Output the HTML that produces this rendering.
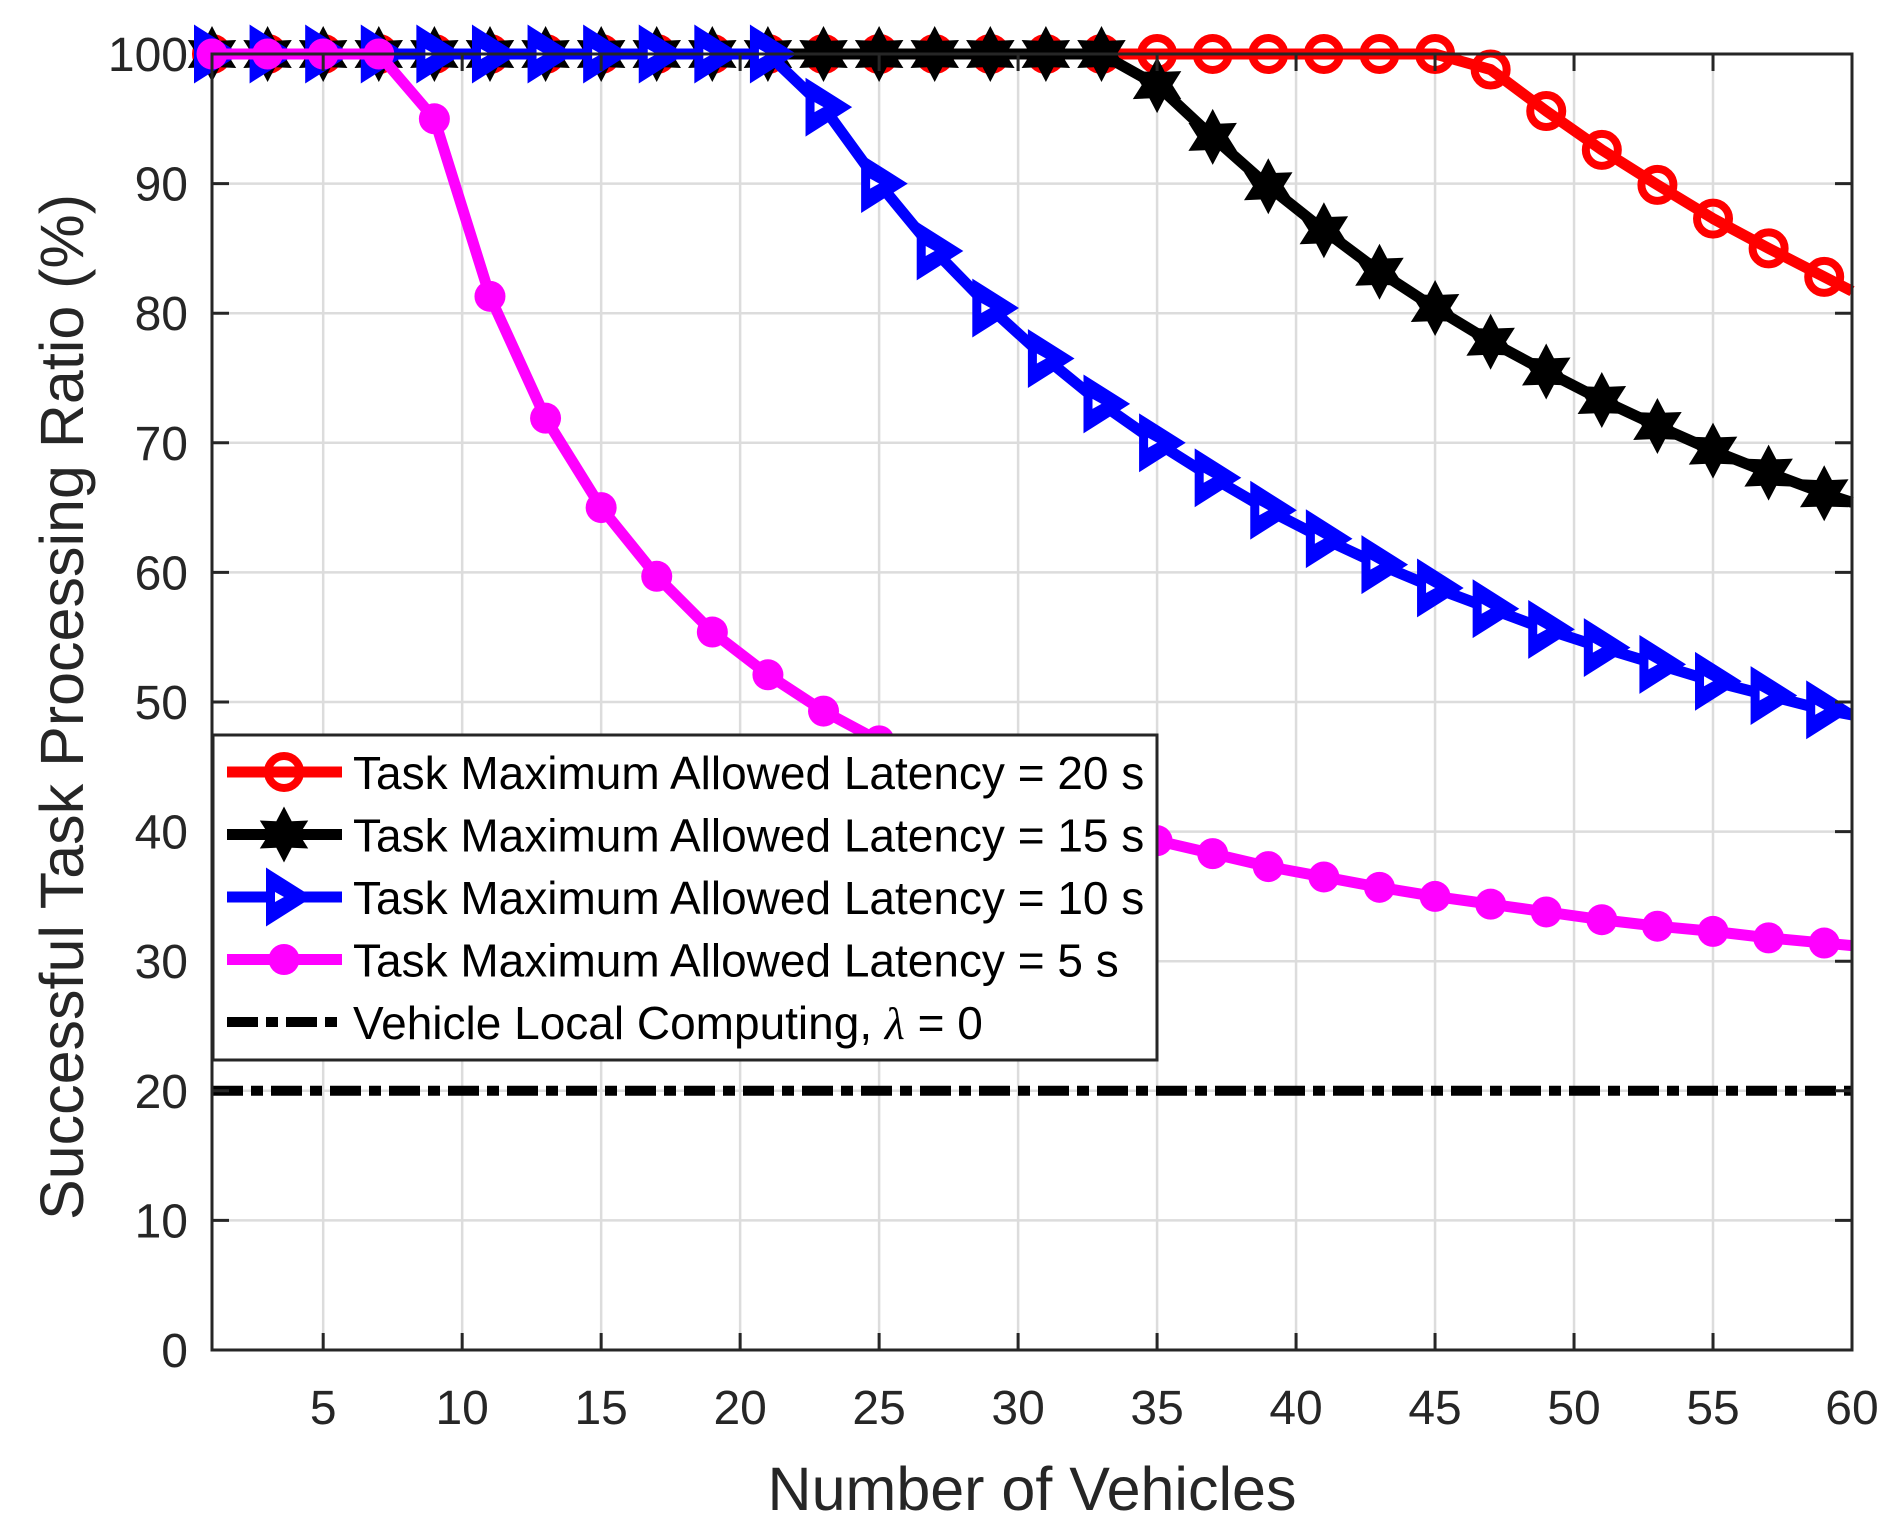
<!DOCTYPE html>
<html><head><meta charset="utf-8"><style>html,body{margin:0;padding:0;background:#fff}svg{display:block}</style></head>
<body>
<svg id="s" width="1902" height="1538" viewBox="0 0 1902 1538" xmlns="http://www.w3.org/2000/svg" font-family="Liberation Sans, sans-serif">
<rect width="1902" height="1538" fill="#fff"/>
<g id="grid"></g>
<g id="series"></g>
<g id="axes"></g>
<g id="legend"></g>
<text x="1032" y="1510" font-size="61" text-anchor="middle" fill="#262626">Number of Vehicles</text>
<text transform="translate(83,707) rotate(-90)" font-size="61" text-anchor="middle" fill="#262626">Successful Task Processing Ratio (%)</text>
</svg>
<script>
const L=212,R=1852,T=54,B=1350;
const X=v=>L+(v-1)*(R-L)/59, Y=v=>B-v*(B-T)/100;
const NS="http://www.w3.org/2000/svg";
function el(p,t,a,txt){const e=document.createElementNS(NS,t);for(const k in a)e.setAttribute(k,a[k]);if(txt!==undefined)e.textContent=txt;document.getElementById(p).appendChild(e);return e;}
for(let v=5;v<=55;v+=5)el('grid','line',{x1:X(v),x2:X(v),y1:T,y2:B,stroke:'#dcdcdc','stroke-width':2.5});
for(let v=10;v<=90;v+=10)el('grid','line',{x1:L,x2:R,y1:Y(v),y2:Y(v),stroke:'#dcdcdc','stroke-width':2.5});
el('axes','rect',{x:L,y:T,width:R-L,height:B-T,fill:'none',stroke:'#262626','stroke-width':3});
for(let v=5;v<=60;v+=5){el('axes','line',{x1:X(v),x2:X(v),y1:B,y2:B-17,stroke:'#262626','stroke-width':3});el('axes','line',{x1:X(v),x2:X(v),y1:T,y2:T+17,stroke:'#262626','stroke-width':3});
el('axes','text',{x:X(v),y:1424,'font-size':48,'text-anchor':'middle',fill:'#262626'},String(v));}
for(let v=0;v<=100;v+=10){el('axes','line',{x1:L,x2:L+17,y1:Y(v),y2:Y(v),stroke:'#262626','stroke-width':3});el('axes','line',{x1:R,x2:R-17,y1:Y(v),y2:Y(v),stroke:'#262626','stroke-width':3});
el('axes','text',{x:188,y:Y(v)+17,'font-size':48,'text-anchor':'end',fill:'#262626'},String(v));}
const xs=[];for(let i=1;i<=59;i+=2)xs.push(i);
function fill100(arr){const n=30-arr.length;return Array(n).fill(100).concat(arr);}
const red=fill100([98.8,95.6,92.6,89.9,87.3,85,82.8]);
const blk=fill100([97.6,93.6,89.8,86.4,83.2,80.4,77.8,75.5,73.3,71.3,69.4,67.7,66.1]);
const blu=fill100([95.9,90,84.8,80.4,76.5,73,70,67.3,64.8,62.6,60.6,58.8,57.2,55.6,54.2,52.9,51.6,50.5,49.4]);
const mag=fill100([95,81.3,71.9,65,59.7,55.4,52.1,49.3,47,45,43.3,41.8,40.5,39.3,38.3,37.3,36.5,35.7,35,34.4,33.8,33.2,32.7,32.3,31.8,31.4]);
function pts(d,end){let p=xs.map((x,i)=>X(x)+','+Y(d[i]));p.push(X(60)+','+Y(end));return p.join(' ');}
function star(cx,cy,r){let p=[];for(let i=0;i<12;i++){const a=-Math.PI/2+i*Math.PI/6;const rr=i%2?r*0.55:r;p.push((cx+rr*Math.cos(a)).toFixed(1)+','+(cy+rr*Math.sin(a)).toFixed(1));}return p.join(' ');}
function circ(g,cx,cy){el(g,'circle',{cx,cy,r:16,fill:'none',stroke:'#f00','stroke-width':8});}
function st(g,cx,cy){el(g,'polygon',{points:star(cx,cy,28),fill:'#000'});}
function tri(g,cx,cy){el(g,'polygon',{points:`${cx-15},${cy-24} ${cx+23},${cy} ${cx-15},${cy+24}`,fill:'#00f',stroke:'#00f','stroke-width':6,'stroke-linejoin':'miter'});el(g,'polygon',{points:`${cx-9},${cy-5} ${cx},${cy} ${cx-9},${cy+5}`,fill:'#fff'});}
function dot(g,cx,cy){el(g,'circle',{cx,cy,r:15.5,fill:'#f0f'});}
el('series','line',{x1:L,x2:R,y1:Y(20),y2:Y(20),stroke:'#000','stroke-width':10,'stroke-dasharray':'31 8 12 8'});
const S=[[red,81.7,'#f00',circ],[blk,65.4,'#000',st],[blu,49,'#00f',tri],[mag,31.2,'#f0f',dot]];
for(const [d,e,c,m] of S){el('series','polyline',{points:pts(d,e),fill:'none',stroke:c,'stroke-width':11,'stroke-linejoin':'round'});xs.forEach((x,i)=>m('series',X(x),Y(d[i])));}
el('legend','rect',{x:213,y:735,width:944,height:325,fill:'#fff',stroke:'#262626','stroke-width':3});
const labs=['Task Maximum Allowed Latency = 20 s','Task Maximum Allowed Latency = 15 s','Task Maximum Allowed Latency = 10 s','Task Maximum Allowed Latency = 5 s'];
const cols=['#f00','#000','#00f','#f0f'];const ms=[circ,st,tri,dot];
for(let i=0;i<4;i++){const y=772+i*62.5;el('legend','line',{x1:227,x2:342,y1:y,y2:y,stroke:cols[i],'stroke-width':11});ms[i]('legend',284,y);
el('legend','text',{x:353,y:y+17,'font-size':46,fill:'#000'},labs[i]);}
const y5=1022;el('legend','line',{x1:227,x2:342,y1:y5,y2:y5,stroke:'#000','stroke-width':10,'stroke-dasharray':'31 8 12 8'});
const t=el('legend','text',{x:353,y:y5+17,'font-size':46,fill:'#000'});
t.appendChild(document.createTextNode('Vehicle Local Computing, '));
const ts=document.createElementNS(NS,'tspan');ts.setAttribute('font-style','italic');ts.setAttribute('font-family','Liberation Serif, serif');ts.textContent='λ';t.appendChild(ts);
t.appendChild(document.createTextNode(' = 0'));
</script>
</body></html>
